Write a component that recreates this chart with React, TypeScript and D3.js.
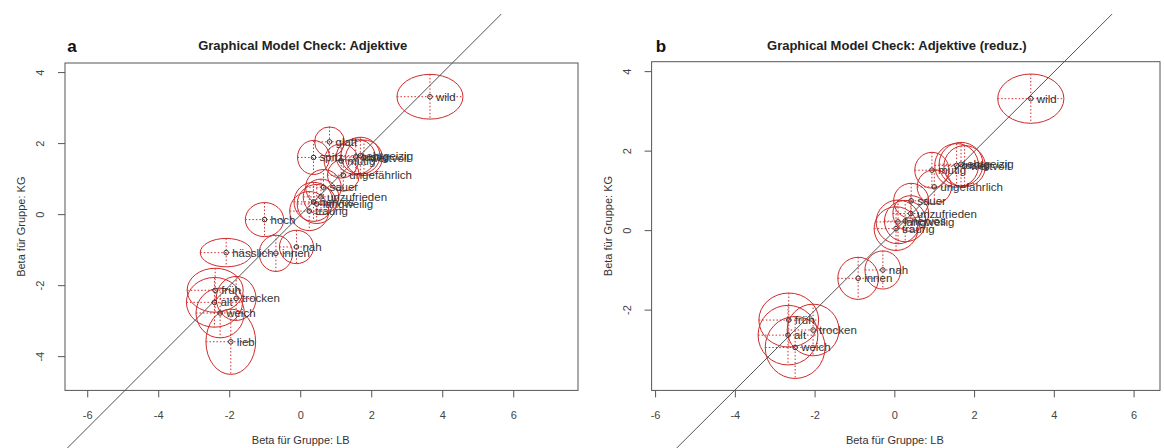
import React, { useEffect, useRef } from "react";
import * as d3 from "d3";

// panel a: Adjektive
const wordsA = ["wild", "glatt", "spitz", "mutig", "lustig", "ehrgeizig", "wertvoll", "ungefährlich", "sauer", "unzufrieden", "nervös", "langweilig", "traurig", "hoch", "hässlich", "innen", "nah", "früh", "alt", "trocken", "weich", "lieb"];
const xA = [3.64, 0.81, 0.36, 1.14, 1.55, 1.68, 1.78, 1.2, 0.64, 0.57, 0.36, 0.45, 0.24, -1.02, -2.1, -0.7, -0.12, -2.41, -2.43, -1.82, -2.27, -1.97];
const yA = [3.32, 2.05, 1.61, 1.51, 1.63, 1.66, 1.6, 1.11, 0.77, 0.5, 0.36, 0.3, 0.1, -0.14, -1.07, -1.09, -0.91, -2.13, -2.47, -2.36, -2.77, -3.58];
const rxA = [0.93, 0.42, 0.45, 0.48, 0.55, 0.55, 0.52, 0.45, 0.5, 0.5, 0.55, 0.55, 0.55, 0.54, 0.73, 0.47, 0.48, 0.79, 0.79, 0.56, 0.68, 0.7];
const ryA = [0.63, 0.42, 0.48, 0.48, 0.5, 0.52, 0.5, 0.45, 0.5, 0.5, 0.55, 0.55, 0.55, 0.48, 0.4, 0.51, 0.47, 0.62, 0.7, 0.62, 0.7, 0.92];

// panel b: Adjektive (reduz.)
const wordsB = ["wild", "lustig", "ehrgeizig", "wertvoll", "mutig", "ungefährlich", "sauer", "unzufrieden", "nervös", "langweilig", "traurig", "nah", "innen", "früh", "alt", "trocken", "weich"];
const xB = [3.41, 1.55, 1.66, 1.75, 0.93, 0.99, 0.41, 0.4, 0.26, 0.08, 0.03, -0.3, -0.92, -2.66, -2.68, -2.05, -2.5];
const yB = [3.32, 1.64, 1.67, 1.62, 1.52, 1.1, 0.75, 0.43, 0.24, 0.22, 0.05, -0.99, -1.2, -2.25, -2.63, -2.5, -2.94];
const rxB = [0.83, 0.55, 0.55, 0.52, 0.43, 0.43, 0.44, 0.45, 0.52, 0.55, 0.55, 0.45, 0.51, 0.75, 0.75, 0.65, 0.75];
const ryB = [0.62, 0.55, 0.55, 0.52, 0.45, 0.43, 0.44, 0.45, 0.52, 0.55, 0.55, 0.48, 0.53, 0.68, 0.75, 0.65, 0.78];

const xTicks = [-6, -4, -2, 0, 2, 4, 6];
const yTicksA = [-4, -2, 0, 2, 4];
const yTicksB = [-2, 0, 2, 4];

const FONT = "'Liberation Sans', Arial, sans-serif";
const RED = "#d02a2a";

type PanelProps = {
  letter: string;
  title: string;
  words: string[];
  xs: number[];
  ys: number[];
  rxs: number[];
  rys: number[];
  yTicks: number[];
  xDomain: [number, number];
  yDomain: [number, number];
  box: { left: number; right: number; top: number; bottom: number };
  clip: [number, number];
  letterX: number;
  id: string;
};

const Panel = (p: PanelProps) => {
  const gRef = useRef<SVGGElement>(null);

  useEffect(() => {
    const g = d3.select(gRef.current);
    g.selectAll("*").remove();
    const { left, right, top, bottom } = p.box;
    const x = d3.scaleLinear().domain(p.xDomain).range([left, right]);
    const y = d3.scaleLinear().domain(p.yDomain).range([bottom, top]);

    // diagonal y = x, drawn over the whole figure region
    g.append("clipPath")
      .attr("id", `clip-${p.id}`)
      .append("rect")
      .attr("x", p.clip[0])
      .attr("y", 14)
      .attr("width", p.clip[1] - p.clip[0])
      .attr("height", 434);
    g.append("line")
      .attr("clip-path", `url(#clip-${p.id})`)
      .attr("x1", x(-12))
      .attr("y1", y(-12))
      .attr("x2", x(12))
      .attr("y2", y(12))
      .attr("stroke", "#555")
      .attr("stroke-width", 1);

    // plot box
    g.append("rect")
      .attr("x", left)
      .attr("y", top)
      .attr("width", right - left)
      .attr("height", bottom - top)
      .attr("fill", "none")
      .attr("stroke", "#555")
      .attr("stroke-width", 1);

    // x axis
    xTicks.forEach((t) => {
      g.append("line")
        .attr("x1", x(t))
        .attr("x2", x(t))
        .attr("y1", bottom)
        .attr("y2", bottom + 7)
        .attr("stroke", "#555");
      g.append("text")
        .attr("x", x(t))
        .attr("y", 419)
        .attr("text-anchor", "middle")
        .style("font-family", FONT)
        .style("font-size", "11px")
        .attr("fill", "#444")
        .text(t);
    });
    g.append("text")
      .attr("x", (x(-6) + x(6)) / 2)
      .attr("y", 444)
      .attr("text-anchor", "middle")
      .style("font-family", FONT)
      .style("font-size", "11px")
      .attr("fill", "#333")
      .text("Beta für Gruppe: LB");

    // y axis
    p.yTicks.forEach((t) => {
      g.append("line")
        .attr("x1", left)
        .attr("x2", left - 7)
        .attr("y1", y(t))
        .attr("y2", y(t))
        .attr("stroke", "#555");
      g.append("text")
        .attr("transform", `translate(${left - 21},${y(t)}) rotate(-90)`)
        .attr("text-anchor", "middle")
        .style("font-family", FONT)
        .style("font-size", "11px")
        .attr("fill", "#444")
        .text(t);
    });
    g.append("text")
      .attr("transform", `translate(${left - 40},${(top + bottom) / 2}) rotate(-90)`)
      .attr("text-anchor", "middle")
      .style("font-family", FONT)
      .style("font-size", "11px")
      .attr("fill", "#333")
      .text("Beta für Gruppe: KG");

    // titles
    g.append("text")
      .attr("x", (x(-6) + x(6)) / 2 + 2)
      .attr("y", 50)
      .attr("text-anchor", "middle")
      .style("font-family", FONT)
      .style("font-size", "13px")
      .style("font-weight", "bold")
      .attr("fill", "#222")
      .text(p.title);
    g.append("text")
      .attr("x", p.letterX)
      .attr("y", 52)
      .attr("text-anchor", "middle")
      .style("font-family", FONT)
      .style("font-size", "17px")
      .style("font-weight", "bold")
      .attr("fill", "#111")
      .text(p.letter);

    const pts = p.words.map((w, i) => ({
      w,
      cx: x(p.xs[i]),
      cy: y(p.ys[i]),
      rx: x(p.xs[i] + p.rxs[i]) - x(p.xs[i]),
      ry: y(p.ys[i]) - y(p.ys[i] + p.rys[i]),
    }));

    const marks = g.append("g");
    pts.forEach((d) => {
      marks
        .append("line")
        .attr("x1", d.cx - d.rx)
        .attr("x2", d.cx + d.rx)
        .attr("y1", d.cy)
        .attr("y2", d.cy)
        .attr("stroke", RED)
        .attr("stroke-dasharray", "1.5,2")
        .attr("stroke-width", 1);
      marks
        .append("line")
        .attr("x1", d.cx)
        .attr("x2", d.cx)
        .attr("y1", d.cy - d.ry)
        .attr("y2", d.cy + d.ry)
        .attr("stroke", RED)
        .attr("stroke-dasharray", "1.5,2")
        .attr("stroke-width", 1);
      marks
        .append("ellipse")
        .attr("cx", d.cx)
        .attr("cy", d.cy)
        .attr("rx", d.rx)
        .attr("ry", d.ry)
        .attr("fill", "none")
        .attr("stroke", RED)
        .attr("stroke-width", 1);
    });
    pts.forEach((d) => {
      marks
        .append("circle")
        .attr("cx", d.cx)
        .attr("cy", d.cy)
        .attr("r", 2.3)
        .attr("fill", "none")
        .attr("stroke", "#333")
        .attr("stroke-width", 1);
      marks
        .append("text")
        .attr("x", d.cx + 6)
        .attr("y", d.cy + 4)
        .style("font-family", FONT)
        .style("font-size", "11.5px")
        .attr("fill", "#333")
        .text(d.w);
    });
  }, [p]);

  return <g ref={gRef}></g>;
};

const App = () => {
  return (
    <svg
      width={1164}
      height={448}
      style={{ position: "absolute", left: 0, top: 0, background: "#fff" }}
    >
      <rect x={0} y={0} width={1164} height={448} fill="#fff" />
      <Panel
        id="a"
        letter="a"
        title="Graphical Model Check: Adjektive"
        words={wordsA}
        xs={xA}
        ys={yA}
        rxs={rxA}
        rys={ryA}
        yTicks={yTicksA}
        xDomain={[-6.64, 7.81]}
        yDomain={[-4.95, 4.27]}
        box={{ left: 65, right: 578, top: 63, bottom: 390.4 }}
        clip={[0, 582]}
        letterX={72}
      />
      <Panel
        id="b"
        letter="b"
        title="Graphical Model Check: Adjektive (reduz.)"
        words={wordsB}
        xs={xB}
        ys={yB}
        rxs={rxB}
        rys={ryB}
        yTicks={yTicksB}
        xDomain={[-6.1, 6.65]}
        yDomain={[-4.02, 4.25]}
        box={{ left: 651.6, right: 1160, top: 61.7, bottom: 390.4 }}
        clip={[590, 1164]}
        letterX={661}
      />
    </svg>
  );
};

export default App;
